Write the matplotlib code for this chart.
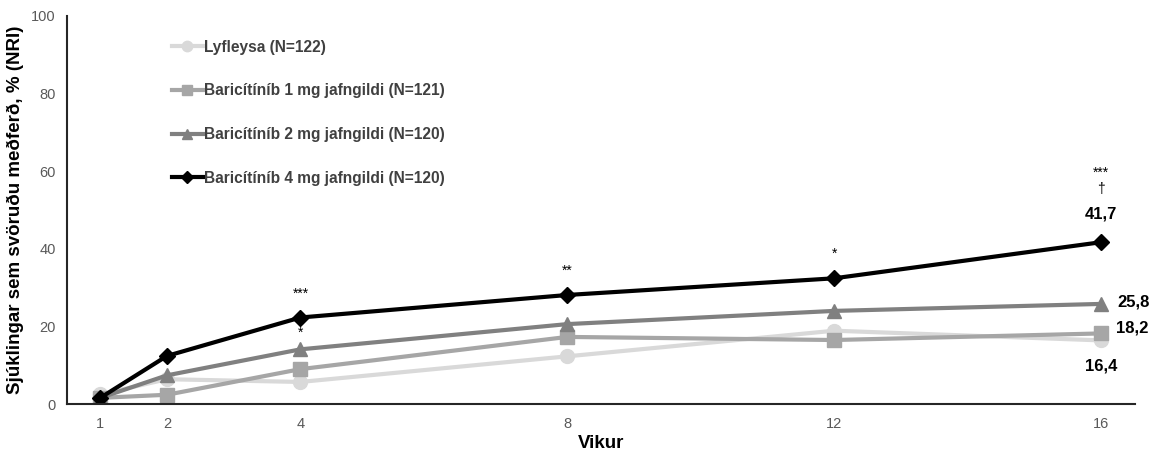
import matplotlib
matplotlib.use("Agg")
import matplotlib.pyplot as plt

plt.rcParams['font.family'] = ['Liberation Sans', 'DejaVu Sans']

weeks = [1, 2, 4, 8, 12, 16]
placebo = [2.5, 6.4, 5.7, 12.3, 18.9, 16.4]
bari1 = [1.6, 2.4, 9.0, 17.3, 16.5, 18.2]
bari2 = [1.6, 7.4, 14.1, 20.6, 24.0, 25.8]
bari4 = [1.6, 12.4, 22.3, 28.1, 32.4, 41.7]

labels = ["Lyfleysa (N=122)",
          "Baricítíníb 1 mg jafngildi (N=121)",
          "Baricítíníb 2 mg jafngildi (N=120)",
          "Baricítíníb 4 mg jafngildi (N=120)"]
colors = ["#d9d9d9", "#a6a6a6", "#808080", "#000000"]
markers = ["o", "s", "^", "D"]
msizes = [10, 9.5, 9.5, 8]

sig_weeks = [4, 4, 8, 12, 16, 16]
sig_y = [28.3, 18.4, 34.3, 38.6, 59.5, 55.5]
sig_text = ["***", "*", "**", "*", "***", "†"]

end_labels = ["16,4", "18,2", "25,8", "41,7"]

fig = plt.figure(figsize=(11.53, 4.53), dpi=100)
ax = fig.add_axes([0.058, 0.108, 0.926, 0.857])

series = [placebo, bari1, bari2, bari4]
for vals, c, m, ms, lab in zip(series, colors, markers, msizes, labels):
    ax.plot(weeks, vals, color=c, marker=m, markersize=ms, linewidth=3,
            label=lab, markeredgecolor=c)

for x, y, t in zip(sig_weeks, sig_y, sig_text):
    ax.text(x, y, t, ha='center', va='center', fontsize=10, color='black',
            zorder=5)

ax.text(weeks[-1], 49.0, end_labels[3], ha='center', va='center',
        fontsize=12, fontweight='bold')
ax.text(weeks[-1] + 0.24, bari2[-1] + 0.5, end_labels[2], ha='left', va='center',
        fontsize=12, fontweight='bold')
ax.text(weeks[-1] + 0.22, bari1[-1] + 1.4, end_labels[1], ha='left', va='center',
        fontsize=12, fontweight='bold')
ax.text(weeks[-1], placebo[-1] - 6.6, end_labels[0], ha='center', va='center',
        fontsize=12, fontweight='bold')

ax.set_xlim(0.5, 16.5)
ax.set_ylim(0, 100)
ax.set_xticks(weeks)
ax.set_yticks([0, 20, 40, 60, 80, 100])
ax.tick_params(axis='both', length=0, labelsize=10.5, labelcolor='#595959')
ax.tick_params(axis='x', pad=9)
ax.tick_params(axis='y', pad=8)
for s in ['top', 'right']:
    ax.spines[s].set_visible(False)
for s in ['left', 'bottom']:
    ax.spines[s].set_color('#262626')
    ax.spines[s].set_linewidth(1.5)

ax.set_xlabel("Vikur", fontsize=13.5, fontweight='bold', labelpad=3)
ax.set_ylabel("Sjúklingar sem svöruðu meðferð, % (NRI)", fontsize=13.5,
              fontweight='bold', labelpad=5)

leg = ax.legend(loc='upper left', bbox_to_anchor=(0.085, 0.975), frameon=False,
                fontsize=11.2, labelspacing=1.85, handlelength=2.0,
                handletextpad=0.1, markerscale=0.75)
for t in leg.get_texts():
    t.set_fontweight('bold')
    t.set_color('#404040')

fig.savefig("out.png", dpi=100)
